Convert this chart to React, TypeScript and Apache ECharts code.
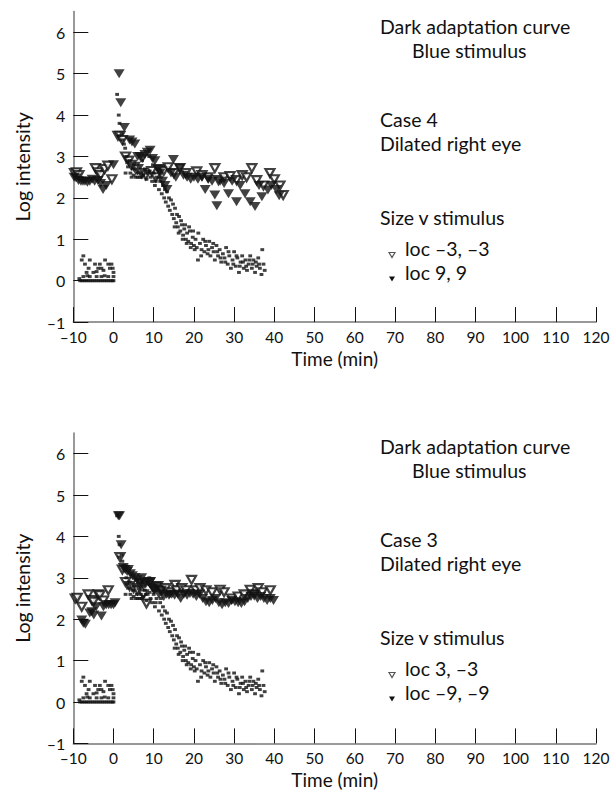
import React, { useEffect, useRef } from "react";
import * as echarts from "echarts";

// ---- axis settings ----
const xMin = -10;
const xMax = 120;
const xStep = 10;
const yMin = -1;
const yMax = 6.5;
const yStep = 1;

// ---- normal dark adaptation band (small dots), same in both panels ----
const normalPre: number[][] = [
  [-8.3, 0], [-7.8, 0], [-7.3, 0], [-6.8, 0], [-6.3, 0], [-5.8, 0], [-5.3, 0], [-4.8, 0], [-4.3, 0],
  [-3.8, 0], [-3.3, 0], [-2.8, 0], [-2.3, 0], [-1.8, 0], [-1.3, 0], [-0.8, 0], [-0.3, 0], [0, 0],
  [-7.5, 0.6], [-7.9, 0.5], [-5.9, 0.5], [-2.1, 0.5], [-7.1, 0.4], [-4.6, 0.4], [-3.4, 0.4], [-1.3, 0.4],
  [-6.2, 0.3], [-3.8, 0.3], [-0.9, 0.3], [-0.2, 0.3], [-6.7, 0.2], [-5.0, 0.2], [-2.5, 0.25], [0, 0.2],
  [-4.2, 0.22], [-7.5, 0.1], [-5.9, 0.1], [-4.2, 0.1], [-3.0, 0.1], [-1.3, 0.1], [0, 0.1], [-6.5, 0.12],
  [-2.2, 0.12], [-8.5, 0.05], [-0.5, 0.4], [-3.0, 0.3],
];
const normalPost: number[][] = [
  [0.9, 4.5], [1.3, 4.0], [1.5, 3.8], [1.4, 3.5], [2.0, 3.55], [2.2, 3.4], [2.6, 3.3], [2.9, 3.2],
  [3.2, 3.0], [3.4, 2.85], [3.6, 2.75], [4.0, 2.9], [4.2, 2.6], [4.5, 2.5], [4.8, 2.7], [5.1, 2.8],
  [5.5, 2.5], [5.8, 2.6], [6.2, 2.75], [6.5, 2.5], [6.8, 2.6], [7.1, 2.9], [7.4, 2.55], [7.8, 2.7],
  [8.2, 2.45], [8.5, 2.6], [8.9, 3.0], [9.2, 2.5], [9.6, 2.4], [10.0, 2.6], [10.3, 2.3], [10.7, 2.5],
  [11.0, 2.7], [11.3, 2.2], [11.6, 2.4], [12.0, 2.1], [12.3, 2.3], [12.6, 2.0], [13.0, 1.9], [13.3, 2.15],
  [13.6, 1.8], [14.0, 1.7], [14.3, 1.95], [14.6, 1.6], [15.0, 1.5], [15.3, 1.75], [15.6, 1.4], [16.0, 1.3],
  [16.3, 1.55], [16.6, 1.2], [17.0, 1.35], [17.3, 1.1], [17.6, 1.25], [18.0, 1.0], [18.3, 1.15], [18.6, 0.95],
  [19.0, 1.2], [19.3, 0.9], [19.7, 1.05], [20.0, 0.85], [20.4, 1.0], [20.7, 0.8], [21.0, 0.5], [21.1, 1.15],
  [21.5, 0.9], [21.9, 0.75], [22.3, 1.0], [22.6, 0.7], [23.0, 0.85], [23.4, 0.65], [23.8, 0.95], [24.1, 0.6],
  [24.5, 0.8], [24.9, 0.7], [25.2, 0.5], [25.6, 0.85], [26.0, 0.6], [26.4, 0.75], [26.8, 0.45], [27.2, 0.65],
  [27.6, 0.55], [28.0, 0.8], [28.4, 0.4], [28.8, 0.6], [29.2, 0.3], [29.6, 0.5], [30.0, 0.7], [30.4, 0.35],
  [30.8, 0.55], [31.2, 0.2], [31.6, 0.45], [32.0, 0.6], [32.4, 0.3], [32.8, 0.5], [33.2, 0.25], [33.6, 0.4],
  [34.0, 0.6], [34.4, 0.3], [34.8, 0.5], [35.2, 0.2], [35.6, 0.35], [36.0, 0.55], [36.4, 0.3], [36.8, 0.15],
  [37.0, 0.75], [37.3, 0.4], [37.6, 0.25],
  [12.8, 2.2], [13.8, 2.0], [14.8, 1.85], [15.8, 1.6], [16.8, 1.45], [17.8, 1.35], [18.8, 1.3], [19.8, 1.2],
  [15.2, 1.3], [16.2, 1.15], [17.2, 1.0], [18.2, 0.9], [19.2, 0.8], [20.2, 0.75], [21.8, 0.6], [22.8, 0.95],
  [23.6, 0.75], [24.8, 0.9], [25.8, 0.7], [26.6, 0.55], [27.8, 0.45], [28.6, 0.7], [29.8, 0.4], [30.6, 0.6],
  [31.4, 0.35], [32.2, 0.45], [33.0, 0.35], [33.8, 0.5], [34.6, 0.4], [35.4, 0.45], [36.2, 0.4], [3.0, 2.6],
  [5.0, 2.55], [6.0, 2.5], [7.0, 2.5], [8.0, 2.6], [9.0, 2.65], [10.5, 2.4], [11.8, 2.5], [9.8, 2.8],
];

// ---- Case 4, dilated right eye ----
const case4Open: number[][] = [
  [-9.7, 2.6], [-9.2, 2.62], [-8.6, 2.55], [-4.5, 2.72], [-3.8, 2.62], [-3.2, 2.55], [-2.2, 2.7],
  [-1.4, 2.78], [-0.4, 2.45],
  [1.1, 3.5], [1.6, 3.5], [2.2, 3.4], [3.0, 3.0], [3.8, 2.9], [4.4, 2.8], [5.2, 2.75], [6.0, 2.7],
  [7.0, 2.6], [8.0, 2.55], [9.5, 2.65], [10.5, 2.5], [11.5, 2.7], [12.5, 2.65], [13.6, 2.74], [15.0, 2.6],
  [16.5, 2.72], [18.0, 2.6], [20.7, 2.64], [22.0, 2.55], [23.5, 2.5], [25.2, 2.72], [26.1, 2.43],
  [27.5, 2.5], [29.0, 2.53], [30.6, 2.43], [32.0, 2.55], [33.1, 2.5], [34.4, 2.72], [35.6, 2.43],
  [37.3, 2.3], [38.9, 2.6], [40.0, 2.45], [41.4, 2.3], [42.2, 2.07],
];
const case4Filled: number[][] = [
  [-9.8, 2.5], [-9.3, 2.48], [-8.7, 2.42], [-8.1, 2.4], [-7.6, 2.4], [-7.1, 2.4], [-6.5, 2.38],
  [-5.9, 2.4], [-5.3, 2.45], [-4.7, 2.4], [-3.9, 2.42], [-3.2, 2.35], [-2.6, 2.2], [-1.8, 2.3], [0, 2.8],
  [1.4, 5.0], [1.8, 4.3], [2.7, 3.7], [4.0, 3.4], [4.6, 3.35], [5.3, 3.3], [6.0, 3.0], [6.6, 3.0],
  [7.2, 2.95], [7.8, 3.05], [8.4, 3.1], [9.1, 3.15], [9.7, 2.95], [10.3, 2.9], [11.0, 2.7], [11.6, 2.6],
  [12.2, 2.4], [12.8, 2.3], [13.3, 2.2], [14.3, 2.6], [14.9, 2.93], [15.5, 2.5], [16.5, 2.72], [17.4, 2.55],
  [18.3, 2.5], [19.2, 2.45], [20.0, 2.5], [21.0, 2.45], [22.0, 2.5], [22.8, 2.2], [23.6, 2.45], [24.5, 2.4],
  [25.2, 2.07], [25.7, 1.81], [26.5, 2.4], [27.5, 2.35], [28.6, 2.1], [29.5, 2.4], [30.6, 1.91],
  [31.5, 2.3], [32.7, 2.1], [34.0, 1.91], [35.2, 1.79], [36.2, 2.3], [36.9, 2.03], [38.4, 2.19],
  [39.3, 2.3], [40.5, 2.2], [41.2, 2.05],
];

// ---- Case 3, dilated right eye ----
const case3Open: number[][] = [
  [-9.5, 2.5], [-9.0, 2.52], [-7.9, 2.3], [-6.3, 2.6], [-5.4, 2.46], [-5.0, 2.42], [-3.8, 2.6],
  [-3.4, 2.58], [-2.5, 2.45], [-1.3, 2.7],
  [1.6, 3.5], [2.2, 3.2], [3.0, 2.9], [4.0, 2.8], [5.0, 2.75], [6.0, 2.7], [6.6, 2.87], [7.4, 2.6],
  [8.2, 2.38], [9.0, 2.9], [10.0, 2.75], [11.0, 2.8], [12.0, 2.7], [13.0, 2.75], [14.0, 2.65],
  [15.3, 2.83], [15.7, 2.7], [17.0, 2.75], [18.0, 2.7], [19.4, 2.95], [20.5, 2.7], [21.5, 2.75],
  [23.0, 2.7], [24.5, 2.65], [26.5, 2.71], [27.5, 2.65], [29.4, 2.5], [31.0, 2.55], [32.5, 2.6],
  [34.0, 2.71], [35.0, 2.6], [36.0, 2.75], [37.0, 2.65], [39.0, 2.7],
];
const case3Filled: number[][] = [
  [-7.9, 1.98], [-7.5, 1.9], [-7.0, 1.88], [-5.9, 2.15], [-5.4, 2.18], [-4.9, 2.1], [-4.3, 2.3],
  [-3.0, 2.08], [-2.5, 2.3], [-1.8, 2.35], [-1.2, 2.35], [-0.6, 2.35], [0, 2.35], [0.4, 2.4],
  [1.2, 4.5], [1.5, 4.5], [1.9, 3.8], [2.4, 3.25], [2.9, 3.2], [3.4, 3.15], [3.7, 3.2], [4.2, 3.1],
  [4.7, 3.05], [5.3, 3.0], [5.9, 2.95], [6.6, 2.9], [7.0, 3.0], [7.4, 2.8], [8.0, 2.85], [8.6, 2.9],
  [9.1, 2.9], [9.7, 2.75], [10.2, 2.7], [10.7, 2.8], [11.3, 2.6], [11.9, 2.7], [12.5, 2.55], [13.2, 2.6],
  [13.8, 2.58], [14.5, 2.6], [15.2, 2.58], [16.0, 2.6], [16.7, 2.5], [17.5, 2.6], [18.3, 2.58],
  [19.0, 2.62], [19.8, 2.6], [20.6, 2.55], [21.4, 2.6], [22.2, 2.5], [23.0, 2.42], [23.8, 2.4],
  [24.6, 2.45], [25.4, 2.5], [26.2, 2.4], [27.0, 2.35], [27.8, 2.4], [28.6, 2.38], [29.4, 2.45],
  [30.2, 2.42], [31.0, 2.4], [31.8, 2.38], [32.6, 2.42], [33.4, 2.5], [34.2, 2.55], [35.0, 2.6],
  [35.8, 2.5], [36.6, 2.55], [37.4, 2.5], [38.2, 2.45], [39.0, 2.5], [39.8, 2.45],
];

// ---- texts ----
const panelTitle = ["Dark adaptation curve", "Blue stimulus"];
const topCase = ["Case 4", "Dilated right eye"];
const bottomCase = ["Case 3", "Dilated right eye"];
const legendTitle = "Size v stimulus";
const topNames = ["loc \u20133, \u20133", "loc 9, 9"];
const bottomNames = ["loc 3, \u20133", "loc \u20139, \u20139"];

const FONT = "Lato, 'DejaVu Sans', sans-serif";
const INK = "#111";
const fmt = (v: number) => (v < 0 ? "\u2013" + Math.abs(v) : String(v));

export default function App() {
  const ref = useRef<HTMLDivElement>(null);
  useEffect(() => {
    if (!ref.current) return;
    const chart = echarts.init(ref.current, null, { renderer: "svg" });
    const gridLeft = 73.3;
    const gridW = 522.7;
    const gridH = 310.5;
    const tops = [11.6, 432.9];
    const textOff = [0, 420];

    const xAxisBase = (gi: number) => ({
      type: "value",
      gridIndex: gi,
      min: xMin,
      max: xMax,
      interval: xStep,
      name: "Time (min)",
      nameLocation: "middle",
      nameGap: 27,
      nameTextStyle: { fontFamily: FONT, fontSize: 19, color: INK },
      axisLine: { show: true, onZero: false, lineStyle: { color: "#777", width: 1.5 } },
      axisTick: { show: true, inside: true, length: 15, lineStyle: { color: INK, width: 1 } },
      axisLabel: { fontFamily: FONT, fontSize: 15.5, lineHeight: 16, color: INK, margin: 7, formatter: fmt },
      splitLine: { show: false },
    });
    const yAxisBase = (gi: number) => ({
      type: "value",
      gridIndex: gi,
      min: yMin,
      max: yMax,
      interval: yStep,
      name: "Log intensity",
      nameLocation: "middle",
      nameGap: 41,
      nameTextStyle: { fontFamily: FONT, fontSize: 19.5, color: INK },
      axisLine: { show: true, onZero: false, lineStyle: { color: "#777", width: 1.5 } },
      axisTick: { show: true, inside: true, length: 15, lineStyle: { color: INK, width: 1 } },
      axisLabel: { fontFamily: FONT, fontSize: 16, color: INK, margin: 8, formatter: fmt, showMaxLabel: false },
      splitLine: { show: false },
    });

    const dots = (gi: number, name: string) => [
      {
        type: "scatter", name: name + " pre", xAxisIndex: gi, yAxisIndex: gi, data: normalPre,
        symbol: "rect", symbolSize: [3.8, 3], itemStyle: { color: "#111" }, z: 4,
      },
      {
        type: "scatter", name: name + " post", xAxisIndex: gi, yAxisIndex: gi, data: normalPost,
        symbol: "rect", symbolSize: [3.8, 3], itemStyle: { color: "#111" }, z: 4,
      },
    ];
    const openTri = (gi: number, name: string, data: number[][]) => ({
      type: "scatter", name, xAxisIndex: gi, yAxisIndex: gi, data,
      symbol: "triangle", symbolRotate: 180, symbolSize: [9, 8],
      itemStyle: { color: "#fff", borderColor: INK, borderWidth: 2.2 }, z: 3,
    });
    const filledTri = (gi: number, name: string, data: number[][]) => ({
      type: "scatter", name, xAxisIndex: gi, yAxisIndex: gi, data,
      symbol: "triangle", symbolRotate: 180, symbolSize: [11, 9],
      itemStyle: { color: INK }, z: 3,
    });

    const graphics: any[] = [];
    const addText = (text: string, x: number, baseline: number) => {
      graphics.push({
        type: "text", x, y: baseline - 6.5,
        style: { text, font: `19.5px ${FONT}`, fill: INK, textAlign: "left", textVerticalAlign: "middle" },
      });
    };
    const addTri = (cx: number, cy: number, filled: boolean) => {
      graphics.push({
        type: "polygon",
        shape: { points: [[cx - 3, cy - 2.5], [cx + 3, cy - 2.5], [cx, cy + 2.5]] },
        style: filled ? { fill: INK } : { fill: "#fff", stroke: "#555", lineWidth: 1.2 },
      });
    };
    [0, 1].forEach((p) => {
      const o = textOff[p];
      const cs = p === 0 ? topCase : bottomCase;
      const names = p === 0 ? topNames : bottomNames;
      addText(panelTitle[0], 380, 32.7 + o);
      addText(panelTitle[1], 412, 57.3 + o);
      addText(cs[0], 380, 126 + o);
      addText(cs[1], 380, 150 + o);
      addText(legendTitle, 380, 224 + o);
      addTri(392, 255 + o, false);
      addText(names[0], 405, 255 + o);
      addTri(392, 279 + o, true);
      addText(names[1], 405, 279 + o);
    });

    chart.setOption({
      animation: false,
      backgroundColor: "#fff",
      textStyle: { fontFamily: FONT },
      grid: tops.map((t) => ({ left: gridLeft, top: t, width: gridW, height: gridH, containLabel: false })),
      xAxis: [xAxisBase(0), xAxisBase(1)],
      yAxis: [yAxisBase(0), yAxisBase(1)],
      series: [
        openTri(0, topNames[0], case4Open),
        filledTri(0, topNames[1], case4Filled),
        ...dots(0, "normal top"),
        openTri(1, bottomNames[0], case3Open),
        filledTri(1, bottomNames[1], case3Filled),
        ...dots(1, "normal bottom"),
      ],
      graphic: graphics,
    });
    return () => chart.dispose();
  }, []);
  return (
    <div
      ref={ref}
      style={{ position: "fixed", left: 0, top: 0, width: 615, height: 796, background: "#fff" }}
    />
  );
}
